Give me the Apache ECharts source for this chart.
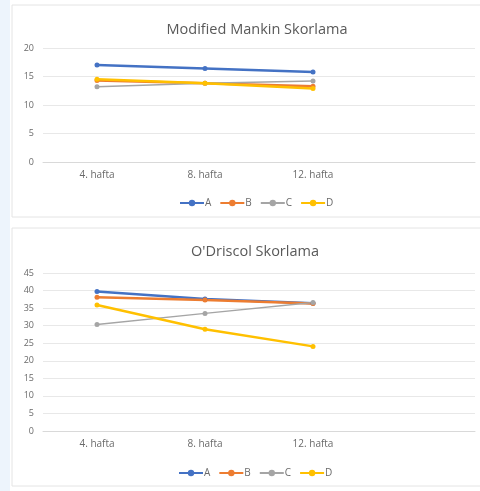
<!DOCTYPE html>
<html>
<head>
<meta charset="utf-8">
<script src="https://cdn.jsdelivr.net/npm/echarts@6/dist/echarts.min.js"></script>
<style>
  html, body { margin: 0; padding: 0; background: #fff; }
  #main { width: 480px; height: 491px; }
</style>
</head>
<body>
<div id="main"></div>
<script>
// data
var weeks = ['4. hafta', '8. hafta', '12. hafta', ''];
var groups = ['A', 'B', 'C', 'D'];
var colors = ['#4472C4', '#ED7D31', '#A5A5A5', '#FFC000'];

var mankinA = [17.0, 16.4, 15.8];
var mankinB = [14.3, 13.8, 13.3];
var mankinC = [13.2, 13.8, 14.2];
var mankinD = [14.5, 13.8, 12.9];

var driscolA = [39.7, 37.6, 36.4];
var driscolB = [38.1, 37.3, 36.3];
var driscolC = [30.3, 33.5, 36.6];
var driscolD = [35.9, 29.0, 24.1];

var mankin = [mankinA, mankinB, mankinC, mankinD];
var driscol = [driscolA, driscolB, driscolC, driscolD];

var fnt = '"Open Sans", sans-serif';

function xAx(idx){
  return {
    type: 'category', gridIndex: idx, data: weeks, boundaryGap: true,
    axisLine: {lineStyle: {color: '#d9d9d9'}},
    axisTick: {show: false},
    axisLabel: {color: '#6a6a6a', fontSize: 10, fontFamily: fnt, margin: 8}
  };
}
function yAx(idx, max){
  return {
    type: 'value', gridIndex: idx, min: 0, max: max, interval: 5,
    axisLine: {show: false}, axisTick: {show: false},
    axisLabel: {color: '#6a6a6a', fontSize: 9, fontFamily: fnt, margin: 9},
    splitLine: {lineStyle: {color: '#e8e8e8'}}
  };
}

var series = [];
function addSeries(vals, idx){
  for (var i = 0; i < groups.length; i++) {
    series.push({
      name: groups[i], type: 'line', xAxisIndex: idx, yAxisIndex: idx,
      data: vals[i], symbol: 'circle', symbolSize: 5,
      lineStyle: {width: i == 2 ? 1.5 : 2.5, color: colors[i]},
      itemStyle: {color: colors[i]},
      z: i == 3 ? 3 : 2
    });
  }
}
addSeries(mankin, 0);
addSeries(driscol, 1);

var myChart = echarts.init(document.getElementById('main'));
var option = {
  backgroundColor: '#ffffff',
  animation: false,
  color: colors,
  graphic: [
    {type: 'rect', shape: {x: 0, y: 0, width: 10, height: 491}, style: {fill: '#edf4fc'}, z: -10},
    {type: 'rect', shape: {x: 12, y: 5, width: 480, height: 212}, style: {fill: '#fff', stroke: '#e4e4e4', lineWidth: 1}, z: -9},
    {type: 'rect', shape: {x: 12, y: 228, width: 480, height: 258}, style: {fill: '#fff', stroke: '#e4e4e4', lineWidth: 1}, z: -9}
  ],
  title: [
    {text: 'Modified Mankin Skorlama', left: 252, top: 17, textAlign: 'center',
     textStyle: {color: '#595959', fontSize: 14.5, fontWeight: 'normal', fontFamily: fnt}},
    {text: "O'Driscol Skorlama", left: 250, top: 239, textAlign: 'center',
     textStyle: {color: '#595959', fontSize: 14.5, fontWeight: 'normal', fontFamily: fnt}}
  ],
  legend: [
    {top: 193, left: 174, data: groups, itemWidth: 24, itemHeight: 8, itemGap: 8,
     textStyle: {color: '#6a6a6a', fontSize: 10, fontFamily: fnt, padding: [0, 0, 0, -4]}, selectedMode: false},
    {top: 463, left: 173, data: groups, itemWidth: 24, itemHeight: 8, itemGap: 8,
     textStyle: {color: '#6a6a6a', fontSize: 10, fontFamily: fnt, padding: [0, 0, 0, -4]}, selectedMode: false}
  ],
  grid: [
    {left: 43, right: 5, top: 48, height: 114},
    {left: 43, right: 5, top: 273, height: 158}
  ],
  xAxis: [xAx(0), xAx(1)],
  yAxis: [yAx(0, 20), yAx(1, 45)],
  series: series
};
if (option && typeof option === "object") {
  myChart.setOption(option, true);
}
</script>
</body>
</html>
